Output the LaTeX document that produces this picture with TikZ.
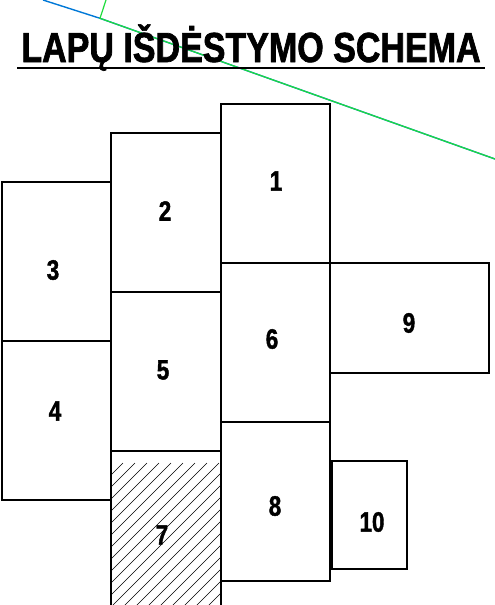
\documentclass[tikz,border=0pt]{standalone}
\usepackage{fontspec}
\usepackage{graphicx}
\setmainfont{Liberation Sans}
\newfontfamily\titlefont[FakeStretch=0.81,FakeBold=1.6]{Liberation Sans}
\newfontfamily\labfont[FakeStretch=0.8,FakeBold=1.4]{Liberation Sans}
\definecolor{lineblue}{RGB}{0,120,215}
\definecolor{linegreen}{RGB}{30,220,60}
\begin{document}
\begin{tikzpicture}[x=1pt,y=-1pt,
  sheet/.style={draw=black,line width=2pt,inner sep=0pt,outer sep=0pt,anchor=north west},
  lab/.style={font=\labfont\bfseries\fontsize{28pt}{28pt}\selectfont,inner sep=0pt},
  hatchline/.style={line width=0.6pt,black}]
\useasboundingbox (0,0) rectangle (495,605);
% reference lines
\coordinate (b0) at (43,0);
\coordinate (j) at (100,18.3);
\coordinate (g0) at (106,0);
\coordinate (g1) at (495,159);
\draw[lineblue,line width=1.4pt] (b0) -- (j) -- (g1);
\draw[linegreen,line width=1.2pt] (g0) -- (j) -- (g1);
% title
\node[inner sep=0pt,anchor=base,font=\titlefont\bfseries\fontsize{42pt}{42pt}\selectfont] (title) at (251,62) {LAPŲ IŠDĖSTYMO SCHEMA};
\coordinate (u0) at (17,68);
\coordinate (u1) at (485,68);
\draw[line width=1.8pt] (u0) -- (u1);
% hatched sheet 7
\begin{scope}
\clip (111,451) rectangle (220.5,606);
\foreach \k in {0,...,24} {
  \draw[hatchline] (111+12*\k-200,451+200+12) -- (111+12*\k,451+12);
}
\end{scope}
% sheets
\node[sheet,minimum width=109pt,minimum height=159pt] (s3) at (1.5,182) {};
\node[sheet,minimum width=109pt,minimum height=159pt] (s4) at (1.5,341) {};
\node[sheet,minimum width=109.5pt,minimum height=159.5pt] (s2) at (111,132.5) {};
\node[sheet,minimum width=109.5pt,minimum height=159pt] (s5) at (111,292) {};
\node[sheet,minimum width=109.5pt,minimum height=159pt] (s1) at (220.5,103.5) {};
\node[sheet,minimum width=109.5pt,minimum height=159pt] (s6) at (220.5,262.7) {};
\node[sheet,minimum width=109.5pt,minimum height=159pt] (s8) at (220.5,421.7) {};
\node[sheet,minimum width=159pt,minimum height=110pt] (s9) at (330,262.7) {};
\node[sheet,minimum width=75.5pt,minimum height=107.7pt] (s10) at (331.7,461) {};
\coordinate (s7a) at (111,607);
\coordinate (s7b) at (111,451);
\coordinate (s7c) at (220.5,451);
\coordinate (s7d) at (220.5,607);
\draw[line width=2pt] (s7a) -- (s7b) -- (s7c) -- (s7d);
% labels
\node[lab] (l1) at (276,181) {1};
\node[lab] (l2) at (165,211) {2};
\node[lab] (l3) at (53,270) {3};
\node[lab] (l4) at (55,411) {4};
\node[lab] (l5) at (163,370) {5};
\node[lab] (l6) at (272,339) {6};
\node[lab] (l7) at (162,535) {7};
\node[lab] (l8) at (275,506) {8};
\node[lab] (l9) at (409,323) {9};
\node[lab] (l10) at (372,522) {10};
\end{tikzpicture}
\end{document}
